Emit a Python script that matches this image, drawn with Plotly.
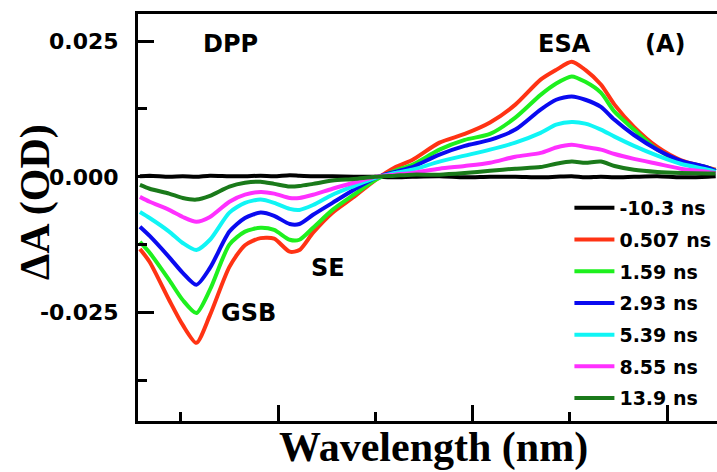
import plotly.graph_objects as go

wavelength = [429, 434, 444, 451, 458, 465, 475, 483, 491, 498, 506, 511, 518, 528, 539, 550,
              560, 569, 583, 596, 609, 622, 635, 643, 651, 658, 666, 673, 683, 695, 707, 721, 725]

s_m10_3 = [0.0001, 0.0002, 0.0000, 0.0001, 0.0000, 0.0002, 0.0001, 0.0001, 0.0002, 0.0001, 0.0003,
           0.0002, 0.0001, 0.0001, 0.0000, 0.0000, -0.0001, 0.0000, 0.0001, -0.0001, 0.0000, 0.0000,
           -0.0001, 0.0000, 0.0001, -0.0001, 0.0000, -0.0001, 0.0000, 0.0001, -0.0001, 0.0000, 0.0001]
s_0_507 = [-0.0133, -0.0157, -0.0227, -0.0273, -0.0306, -0.0255, -0.0166, -0.0126, -0.0113, -0.0114,
           -0.0138, -0.0135, -0.0103, -0.0066, -0.0037, -0.0006, 0.0017, 0.0031, 0.0063, 0.0079,
           0.0100, 0.0133, 0.0179, 0.0197, 0.0212, 0.0197, 0.0170, 0.0133, 0.0092, 0.0055, 0.0031,
           0.0017, 0.0013]
s_1_59 = [-0.0120, -0.0140, -0.0190, -0.0227, -0.0251, -0.0208, -0.0125, -0.0101, -0.0094, -0.0098,
          -0.0116, -0.0116, -0.0094, -0.0061, -0.0033, -0.0006, 0.0011, 0.0022, 0.0050, 0.0068,
          0.0079, 0.0109, 0.0151, 0.0172, 0.0185, 0.0175, 0.0155, 0.0120, 0.0087, 0.0050, 0.0028,
          0.0017, 0.0011]
s_2_93 = [-0.0092, -0.0109, -0.0148, -0.0177, -0.0199, -0.0168, -0.0101, -0.0076, -0.0066, -0.0072,
          -0.0087, -0.0087, -0.0070, -0.0048, -0.0024, -0.0002, 0.0009, 0.0018, 0.0041, 0.0057,
          0.0068, 0.0087, 0.0124, 0.0142, 0.0148, 0.0142, 0.0129, 0.0105, 0.0077, 0.0050, 0.0030,
          0.0017, 0.0011]
s_5_39 = [-0.0065, -0.0076, -0.0101, -0.0122, -0.0135, -0.0116, -0.0066, -0.0048, -0.0042, -0.0048,
          -0.0059, -0.0061, -0.0052, -0.0033, -0.0017, -0.0002, 0.0007, 0.0013, 0.0028, 0.0039,
          0.0050, 0.0063, 0.0081, 0.0096, 0.0101, 0.0098, 0.0087, 0.0074, 0.0057, 0.0039, 0.0024,
          0.0013, 0.0009]
s_8_55 = [-0.0037, -0.0046, -0.0061, -0.0074, -0.0083, -0.0074, -0.0046, -0.0033, -0.0028, -0.0031,
          -0.0039, -0.0039, -0.0033, -0.0022, -0.0011, 0.0000, 0.0004, 0.0007, 0.0015, 0.0020,
          0.0026, 0.0037, 0.0044, 0.0054, 0.0059, 0.0055, 0.0050, 0.0042, 0.0033, 0.0024, 0.0015,
          0.0009, 0.0007]
s_13_9 = [-0.0015, -0.0022, -0.0031, -0.0039, -0.0042, -0.0035, -0.0018, -0.0011, -0.0009, -0.0013,
          -0.0018, -0.0017, -0.0013, -0.0007, -0.0004, 0.0000, 0.0002, 0.0004, 0.0004, 0.0007,
          0.0011, 0.0015, 0.0018, 0.0024, 0.0028, 0.0026, 0.0028, 0.0020, 0.0013, 0.0009, 0.0007,
          0.0006, 0.0006]

series_names = ["-10.3 ns", "0.507 ns", "1.59 ns", "2.93 ns", "5.39 ns", "8.55 ns", "13.9 ns"]
series_values = [s_m10_3, s_0_507, s_1_59, s_2_93, s_5_39, s_8_55, s_13_9]
series_colors = ["#000000", "#FF3314", "#1EF01E", "#0A0AF0", "#10F5F5", "#FF30FF", "#1A7A1A"]

y_tickvals = [-0.025, 0.0, 0.025]
y_ticktext = ["-0.025", "0.000", "0.025"]

fig = go.Figure()
for i, (name, vals, col) in enumerate(zip(series_names, series_values, series_colors)):
    fig.add_trace(go.Scatter(
        x=wavelength, y=vals, name=name, mode="lines",
        line=dict(color=col, width=4, shape="spline", smoothing=0.7),
        legendgroup=f"g{i}",
    ))

lab_font = dict(family="DejaVu Sans", size=24, color="black", weight="bold")
labels = [("DPP", 475.8, 0.0245), ("ESA", 647.5, 0.0245), ("(A)", 699, 0.0245),
          ("SE", 525.7, -0.0168), ("GSB", 484.6, -0.0251)]
for txt, lx, ly in labels:
    fig.add_annotation(x=lx, y=ly, xref="x", yref="y", text=txt, showarrow=False,
                       font=lab_font, xanchor="center", yanchor="middle")

fig.add_annotation(x=(433 - 138) / 579, y=-(447 - 421) / 407, xref="paper", yref="paper",
                   text="Wavelength (nm)", showarrow=False, xanchor="center", yanchor="middle",
                   font=dict(family="Liberation Serif", size=42, color="black", weight="bold"))
fig.add_annotation(x=-(138 - 35) / 579, y=(421 - 202) / 407, xref="paper", yref="paper",
                   text="ΔA (OD)", showarrow=False, textangle=-90, xanchor="center", yanchor="middle",
                   font=dict(family="Liberation Serif", size=42, color="black", weight="bold"))

fig.update_layout(
    width=717, height=472,
    margin=dict(l=138, r=0, t=14, b=51),
    plot_bgcolor="white", paper_bgcolor="white",
    showlegend=True,
    legend=dict(x=0.999, y=(421 - 189) / 407, xanchor="right", yanchor="top",
                bgcolor="rgba(0,0,0,0)", tracegroupgap=4, itemwidth=40,
                font=dict(family="DejaVu Sans", size=19, color="black", weight="bold")),
    xaxis=dict(range=[428, 725.7], showgrid=False, zeroline=False, showline=True,
               linecolor="black", linewidth=3, mirror=True,
               ticks="inside", ticklen=16, tickwidth=3, tickcolor="black",
               tickmode="array", tickvals=[500, 600, 700], showticklabels=False,
               minor=dict(tickmode="array", tickvals=[450, 550, 650], ticks="inside",
                          ticklen=9, tickwidth=3, tickcolor="black")),
    yaxis=dict(range=[-0.045, 0.030], showgrid=False, zeroline=False, showline=True,
               linecolor="black", linewidth=3, mirror=False,
               ticks="inside", ticklen=16, tickwidth=3, tickcolor="black",
               tickmode="array", tickvals=y_tickvals, ticktext=y_ticktext,
               ticklabelstandoff=12,
               tickfont=dict(family="DejaVu Sans", size=22, color="black", weight="bold"),
               minor=dict(tickmode="array", tickvals=[-0.0375, -0.0125, 0.0125], ticks="inside",
                          ticklen=9, tickwidth=3, tickcolor="black")),
)

fig.write_html("out.html")
